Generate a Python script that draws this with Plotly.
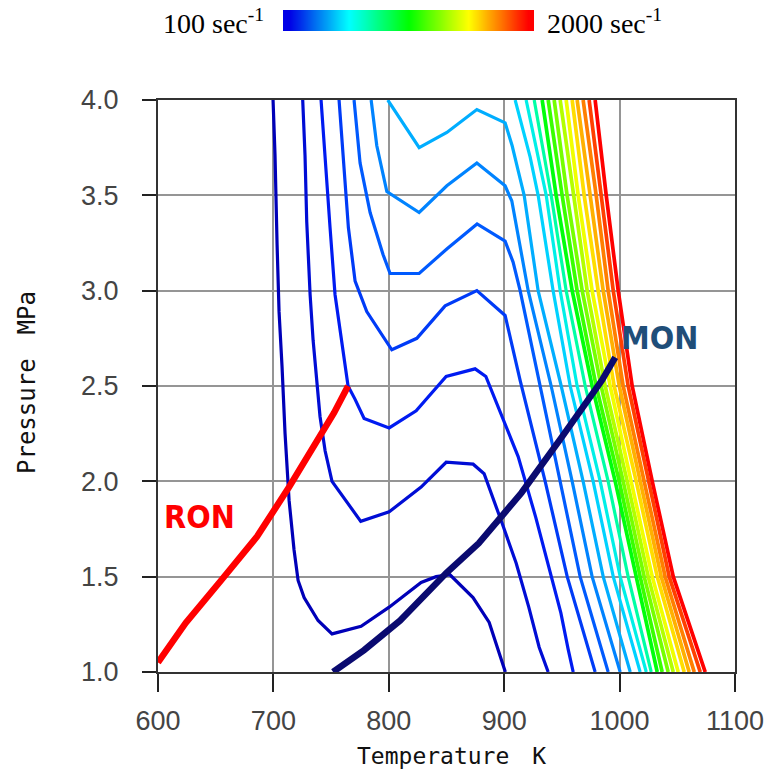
import plotly.graph_objects as go
from plotly.colors import sample_colorscale

# ---------------- data ----------------
levels = [100, 200, 300, 400, 500, 600, 700, 800, 900, 1000,
          1100, 1200, 1300, 1400, 1500, 1600, 1700, 1800, 1900, 2000]

# contour lines (Temperature K, Pressure MPa)
t100 = [699.7, 701.4, 703.2, 704.9, 707.5, 710.1, 713.6, 717.9, 721.4, 726.6,
        738.7, 750.8, 776.0, 800.3, 828.0, 841.0, 853.0, 873.0, 887.0, 901.0]
p100 = [4.0, 3.71, 3.24, 2.89, 2.60, 2.25, 1.90, 1.64, 1.48, 1.39,
        1.27, 1.20, 1.24, 1.34, 1.47, 1.50, 1.51, 1.39, 1.26, 1.0]

t200 = [725.4, 727.4, 728.9, 731.8, 734.4, 740.4, 744.8, 750.8, 775.7, 800.3,
        828.0, 849.7, 873.1, 882.6, 898.2, 910.4, 921.3, 930.3, 938.1]
p200 = [4.0, 3.71, 3.36, 2.98, 2.74, 2.34, 2.16, 2.0, 1.79, 1.84,
        1.97, 2.10, 2.09, 2.04, 1.78, 1.57, 1.34, 1.13, 1.0]

t300 = [741.3, 744.8, 749.1, 753.4, 759.2, 764.7, 770.8, 778.6, 800.3, 823.7,
        849.7, 874.8, 884.1, 899.6, 912.1, 927.4, 939.8, 949.1, 955.4, 959.8]
p300 = [4.0, 3.68, 3.33, 2.98, 2.74, 2.50, 2.43, 2.33, 2.28, 2.37,
        2.55, 2.59, 2.55, 2.32, 2.13, 1.81, 1.53, 1.31, 1.12, 1.0]

t400 = [756.9, 760.6, 765.0, 770.8, 780.9, 802.6, 824.3, 848.8, 876.3, 900.8,
        913.8, 935.5, 954.6, 978.8]
p400 = [4.0, 3.68, 3.33, 3.05, 2.89, 2.69, 2.75, 2.92, 3.0, 2.87,
        2.53, 2.0, 1.5, 1.0]

t500 = [769.9, 775.1, 783.8, 795.0, 801.1, 826.3, 850.5, 876.5, 900.8, 907.7,
        913.8, 931.2, 948.5, 965.8, 990.1]
p500 = [4.0, 3.67, 3.41, 3.19, 3.09, 3.09, 3.22, 3.35, 3.26, 3.15,
        3.0, 2.5, 2.0, 1.5, 1.0]

t600 = [784.7, 789.6, 798.3, 826.3, 850.3, 876.3, 900.8, 906.6, 920.8, 940.7,
        958.9, 976.2, 1000.5]
p600 = [4.0, 3.76, 3.52, 3.41, 3.55, 3.67, 3.55, 3.47, 3.0, 2.5,
        2.0, 1.5, 1.0]

t700 = [799.1, 826.3, 850.3, 876.3, 900.8, 906.9, 912.1, 917.3, 929.4, 949.4,
        968.4, 985.8, 1009.2]
p700 = [4.0, 3.75, 3.83, 3.95, 3.88, 3.76, 3.63, 3.5, 3.0, 2.5,
        2.0, 1.5, 1.0]

t800 = [909.5, 922.5, 929.4, 942.4, 957.2, 977.1, 994.5, 1017.8]
p800 = [4.0, 3.7, 3.5, 3.0, 2.5, 2.0, 1.5, 1.0]

p_right = [4.0, 3.5, 3.0, 2.5, 2.0, 1.5, 1.0]
t900 = [919.0, 936.4, 948.5, 963.2, 983.2, 1000.5, 1023.1]
t1000 = [926.0, 940.7, 953.7, 970.2, 990.1, 1007.4, 1027.4]
t1100 = [932.9, 945.0, 958.9, 976.2, 996.2, 1014.4, 1032.6]
t1200 = [938.1, 950.2, 963.2, 979.7, 999.7, 1017.8, 1036.9]
t1300 = [943.3, 954.5, 967.6, 984.0, 1003.1, 1021.3, 1042.1]
t1400 = [948.5, 959.8, 971.9, 987.5, 1006.6, 1024.8, 1046.5]
t1500 = [953.7, 964.1, 976.2, 991.8, 1010.0, 1028.3, 1050.8]
t1600 = [958.9, 969.3, 981.4, 995.3, 1014.4, 1032.6, 1056.0]
t1700 = [963.2, 974.5, 985.8, 999.7, 1017.8, 1036.1, 1060.3]
t1800 = [968.4, 979.7, 990.1, 1003.1, 1021.3, 1039.5, 1064.7]
t1900 = [973.6, 984.0, 994.5, 1007.4, 1024.8, 1043.0, 1069.9]
t2000 = [978.8, 988.4, 998.8, 1010.9, 1028.3, 1046.5, 1074.2]

# RON / MON lines
ron_t = [600.0, 624.0, 654.6, 685.8, 713.6, 738.7, 752.6, 764.7]
ron_p = [1.05, 1.257, 1.48, 1.71, 1.97, 2.22, 2.36, 2.50]
mon_t = [751.7, 778.6, 809.8, 850.0, 877.9, 915.0, 948.5, 984.7, 996.2]
mon_p = [1.0, 1.115, 1.27, 1.52, 1.675, 1.94, 2.22, 2.53, 2.65]

x_ticks = [600, 700, 800, 900, 1000, 1100]
y_ticks = [1.0, 1.5, 2.0, 2.5, 3.0, 3.5, 4.0]

contours_t = [t100, t200, t300, t400, t500, t600, t700, t800, t900, t1000,
              t1100, t1200, t1300, t1400, t1500, t1600, t1700, t1800, t1900, t2000]
contours_p = [p100, p200, p300, p400, p500, p600, p700, p800] + [p_right] * 12

# ---------------- style ----------------
W, H = 772, 771
line_scale = [[0.0, '#0000b8'], [0.10, '#0018f0'], [0.22, '#0060ff'],
              [0.33, '#00b8ff'], [0.40, '#00e8ff'], [0.47, '#00ffb0'],
              [0.53, '#00ff00'], [0.75, '#ffff00'], [0.88, '#ff9000'],
              [1.0, '#ff0000']]
bar_scale = [[0.0, '#0000e6'], [0.25, '#00ffff'], [0.5, '#00ff00'],
             [0.75, '#ffff00'], [1.0, '#ff0000']]

lo, hi = levels[0], levels[-1]
colors = sample_colorscale(line_scale, [(v - lo) / (hi - lo) for v in levels])

fig = go.Figure()
for lv, tt, pp, c in zip(levels, contours_t, contours_p, colors):
    fig.add_trace(go.Scatter(x=tt, y=pp, mode='lines',
                             line=dict(color=c, width=3.2 if lv < 1100 else 3.7),
                             name=f'{lv}', showlegend=False, hoverinfo='skip'))

fig.add_trace(go.Scatter(x=ron_t, y=ron_p, mode='lines',
                         line=dict(color='#ff0000', width=6.5), showlegend=False))
fig.add_trace(go.Scatter(x=mon_t, y=mon_p, mode='lines',
                         line=dict(color='#0a0a70', width=6.5), showlegend=False))

# gradient bar at top
fig.add_trace(go.Heatmap(x=levels, y=[0], z=[levels], colorscale=bar_scale,
                         zsmooth='best', showscale=False, xaxis='x2', yaxis='y2',
                         hoverinfo='skip'))

def px_x(p):
    return p / W

def px_y(p):
    return 1 - p / H

tick_font = dict(family='Liberation Sans, Arial, sans-serif', size=27, color='#444')

fig.update_layout(
    width=W, height=H,
    margin=dict(l=0, r=0, t=0, b=0, autoexpand=False),
    paper_bgcolor='white', plot_bgcolor='white',
    xaxis=dict(domain=[px_x(158), px_x(735)], range=[600, 1100], automargin=False,
               tickvals=x_ticks, ticks='outside', ticklen=18, tickwidth=2,
               tickcolor='#222', showline=True, linecolor='#333', linewidth=2,
               mirror=True, showgrid=True, gridcolor='#959595', gridwidth=2,
               zeroline=False, ticklabelstandoff=6, tickfont=tick_font),
    yaxis=dict(domain=[px_y(672), px_y(100)], range=[1, 4], automargin=False,
               tickvals=y_ticks, tickformat='.1f', ticks='outside', ticklen=14,
               tickwidth=2, tickcolor='#222', showline=True, linecolor='#333',
               linewidth=2, mirror=True, showgrid=True, gridcolor='#959595',
               gridwidth=2, zeroline=False, ticklabelstandoff=18, tickfont=tick_font),
    xaxis2=dict(domain=[px_x(283), px_x(534)], range=[lo - 50, hi + 50],
                visible=False, anchor='y2', automargin=False),
    yaxis2=dict(domain=[px_y(31), px_y(10)], range=[-0.5, 0.5],
                visible=False, anchor='x2', automargin=False),
)

serif = 'Liberation Serif, Times New Roman, serif'
narrow = 'Liberation Sans Narrow, DejaVu Sans Condensed, Arial Narrow, sans-serif'
mono = 'DejaVu Sans Mono, Liberation Mono, monospace'

annos = [
    dict(text='100 sec<sup>-1</sup>', x=px_x(266), y=px_y(21), xanchor='right',
         font=dict(family=serif, size=28, color='black')),
    dict(text='2000 sec<sup>-1</sup>', x=px_x(545), y=px_y(21), xanchor='left',
         font=dict(family=serif, size=28, color='black')),
    dict(text='<b>RON</b>', x=px_x(200), y=px_y(517), xanchor='center',
         font=dict(family=narrow, size=32, color='#ff0000')),
    dict(text='<b>MON</b>', x=px_x(659), y=px_y(338), xanchor='center',
         font=dict(family=narrow, size=32, color='#1f4e79')),
    dict(text='Temperature\u3000K', x=px_x(451), y=px_y(756), xanchor='center',
         font=dict(family=mono, size=23, color='#111')),
    dict(text='Pressure\u3000MPa', x=px_x(27), y=px_y(383), xanchor='center',
         textangle=-90, font=dict(family=mono, size=24, color='#111')),
]
for a in annos:
    a.update(xref='paper', yref='paper', yanchor='middle', showarrow=False)
    fig.add_annotation(**a)

fig.write_html('out.html')
